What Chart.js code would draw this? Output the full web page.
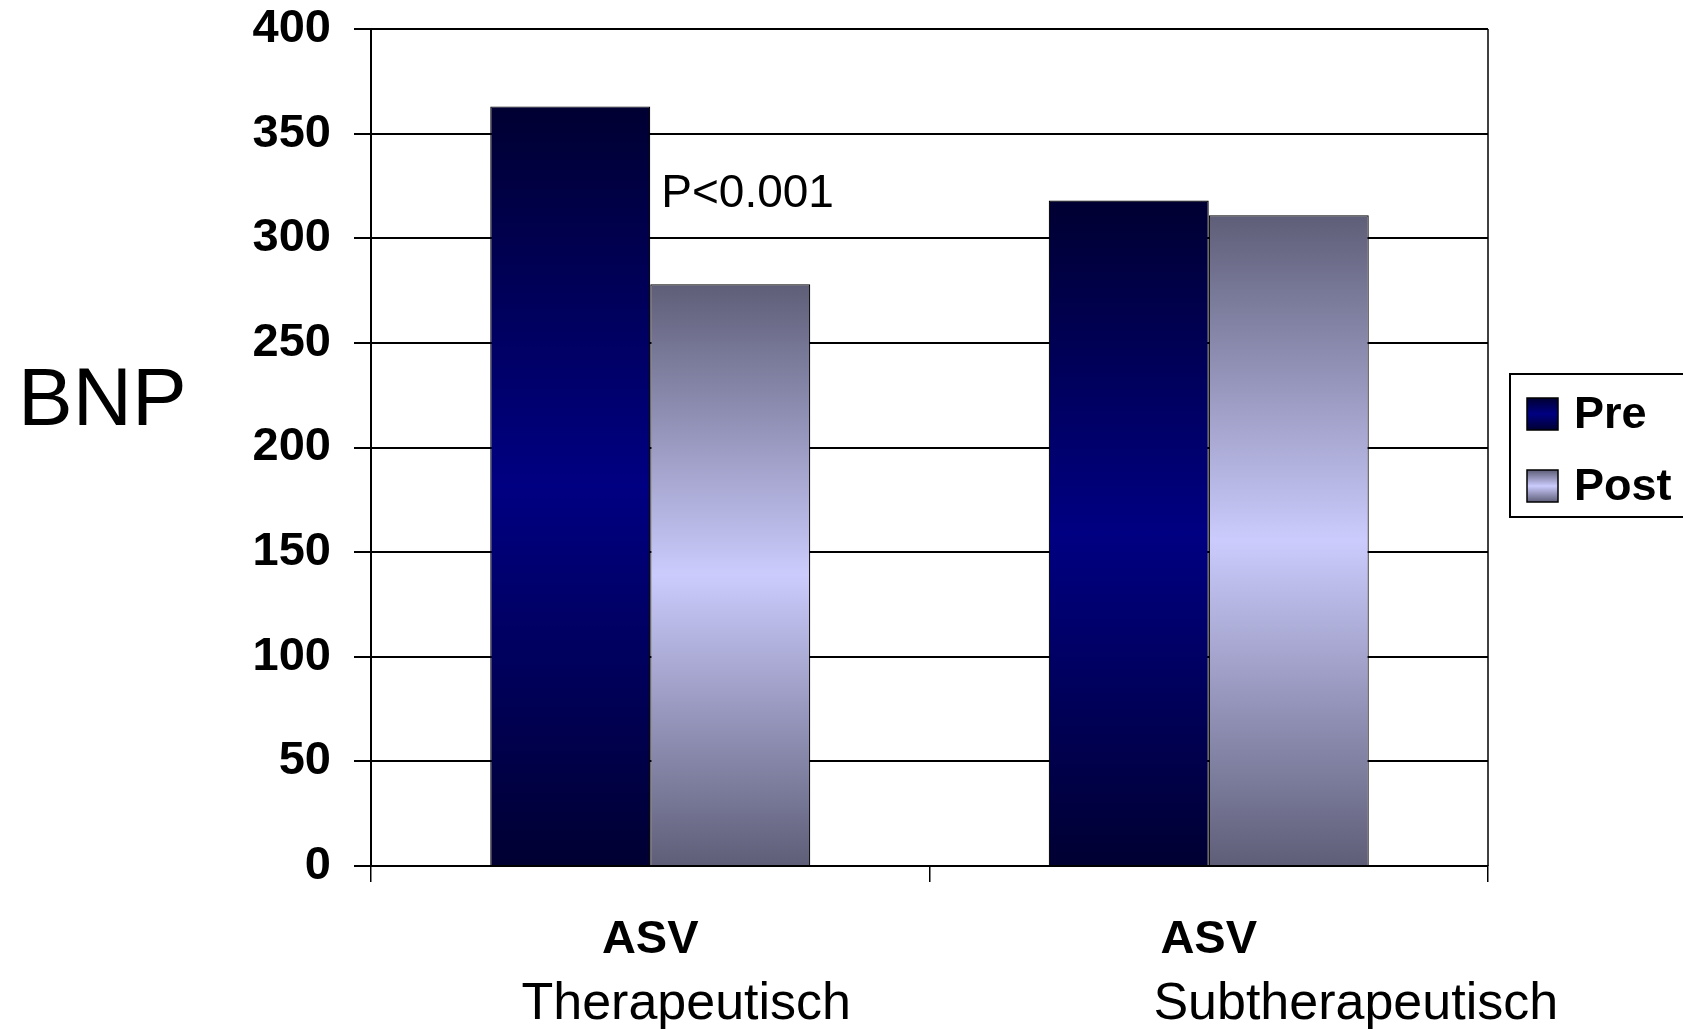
<!DOCTYPE html>
<html>
<head>
<meta charset="utf-8">
<script src="https://cdn.jsdelivr.net/npm/chart.js@4/dist/chart.umd.min.js"></script>
<style>
  html, body { margin: 0; padding: 0; background: #ffffff; }
  #wrap { width: 1683px; height: 1029px; position: relative; }
</style>
</head>
<body>
<div id="wrap"><canvas id="c"></canvas></div>
<script>
// ---- data ----
const categories = ["ASV", "ASV"];
const subLabels = ["Therapeutisch", "Subtherapeutisch"];
const seriesNames = ["Pre", "Post"];
const preValues = [363, 318];
const postValues = [278, 311];
const yTicks = [0, 50, 100, 150, 200, 250, 300, 350, 400];
const axisTitle = "BNP";
const annotationText = "P<0.001";
const annotationCategory = 0;
const annotationValue = 315;

// ---- styling ----
const FONT = "'Liberation Sans', Arial, sans-serif";
const palettes = [
  { edge: "#000032", mid: "#000082" },
  { edge: "#5e5e78", mid: "#cbcbfd" }
];

function makeGradient(ctx2d, top, bottom, pal) {
  const g = ctx2d.createLinearGradient(0, top, 0, bottom);
  g.addColorStop(0, pal.edge);
  g.addColorStop(0.5, pal.mid);
  g.addColorStop(1, pal.edge);
  return g;
}

function barFill(datasetIndex) {
  return (ctx) => {
    const pal = palettes[datasetIndex];
    const chart = ctx.chart;
    const y = chart.scales && chart.scales.y;
    if (ctx.type !== 'data' || !y || !chart.chartArea) return pal.mid;
    const top = y.getPixelForValue(ctx.raw);
    const bot = y.getPixelForValue(0);
    if (!isFinite(top) || !isFinite(bot) || top === bot) return pal.mid;
    return makeGradient(chart.ctx, top, bot, pal);
  };
}

const extrasPlugin = {
  id: 'extras',
  afterDraw(chart) {
    const c = chart.ctx;
    const area = chart.chartArea;
    const xs = chart.scales.x;
    const ys = chart.scales.y;
    c.save();
    // right border of plot
    c.strokeStyle = '#000';
    c.lineWidth = 1.5;
    c.beginPath();
    c.moveTo(area.right, area.top);
    c.lineTo(area.right, area.bottom);
    c.stroke();

    // axis title (horizontal)
    c.fillStyle = '#000';
    c.font = `82px ${FONT}`;
    c.textAlign = 'left';
    c.textBaseline = 'alphabetic';
    c.fillText(axisTitle, 18, 425);

    // second line of category labels
    const dx = [36, 147];
    c.font = `52px ${FONT}`;
    c.textAlign = 'center';
    subLabels.forEach((s, i) => {
      c.fillText(s, xs.getPixelForValue(i) + dx[i], 1019);
    });

    // annotation
    c.font = `46px ${FONT}`;
    c.textAlign = 'left';
    const meta = chart.getDatasetMeta(0);
    const bar = meta.data[annotationCategory];
    const ax = bar.x + bar.width / 2 + 11;
    c.fillText(annotationText, ax, ys.getPixelForValue(annotationValue));

    // legend
    const lx = 1510, ly = 374, lw = 200, lh = 143;
    c.lineWidth = 2;
    c.strokeStyle = '#000';
    c.strokeRect(lx, ly, lw, lh);
    const rows = [398, 470];
    c.font = `bold 45px ${FONT}`;
    chart.data.datasets.forEach((ds, i) => {
      const sy = rows[i];
      c.fillStyle = makeGradient(c, sy, sy + 32, palettes[i]);
      c.fillRect(1527, sy, 31, 32);
      c.lineWidth = 1.5;
      c.strokeRect(1527, sy, 31, 32);
      c.fillStyle = '#000';
      c.textAlign = 'left';
      c.textBaseline = 'alphabetic';
      c.fillText(ds.label, 1574, sy + 30);
    });
    c.restore();
  }
};

new Chart(document.getElementById('c'), {
  type: 'bar',
  data: {
    labels: categories,
    datasets: [
      { label: seriesNames[0], data: preValues, backgroundColor: barFill(0), borderColor: '#000', borderWidth: 1.2, categoryPercentage: 0.573, barPercentage: 1.0 },
      { label: seriesNames[1], data: postValues, backgroundColor: barFill(1), borderColor: '#000', borderWidth: 1.2, categoryPercentage: 0.573, barPercentage: 1.0 }
    ]
  },
  options: {
    responsive: true,
    maintainAspectRatio: false,
    animation: false,
    layout: { padding: { left: 0, right: 195, top: 29, bottom: 0 } },
    plugins: {
      legend: { display: false },
      tooltip: { enabled: false }
    },
    scales: {
      x: {
        afterFit(s) { s.height = 163; },
        grid: { display: true, drawOnChartArea: false, drawTicks: true, tickLength: 16, color: '#000', lineWidth: 1.5, offset: true },
        border: { display: true, color: '#000', width: 2 },
        ticks: { color: '#000', font: { family: FONT, size: 47, weight: 'bold' }, padding: 30, maxRotation: 0, autoSkip: false }
      },
      y: {
        min: 0,
        max: 400,
        afterFit(s) { s.width = 371; s.paddingTop = 0; s.paddingBottom = 0; },
        afterBuildTicks(s) { s.ticks = yTicks.map(v => ({ value: v })); },
        grid: { color: '#000', lineWidth: 2, tickLength: 17, drawTicks: true },
        border: { display: true, color: '#000', width: 2 },
        ticks: { color: '#000', font: { family: FONT, size: 47, weight: 'bold' }, padding: 23 }
      }
    }
  },
  plugins: [extrasPlugin]
});
</script>
</body>
</html>
